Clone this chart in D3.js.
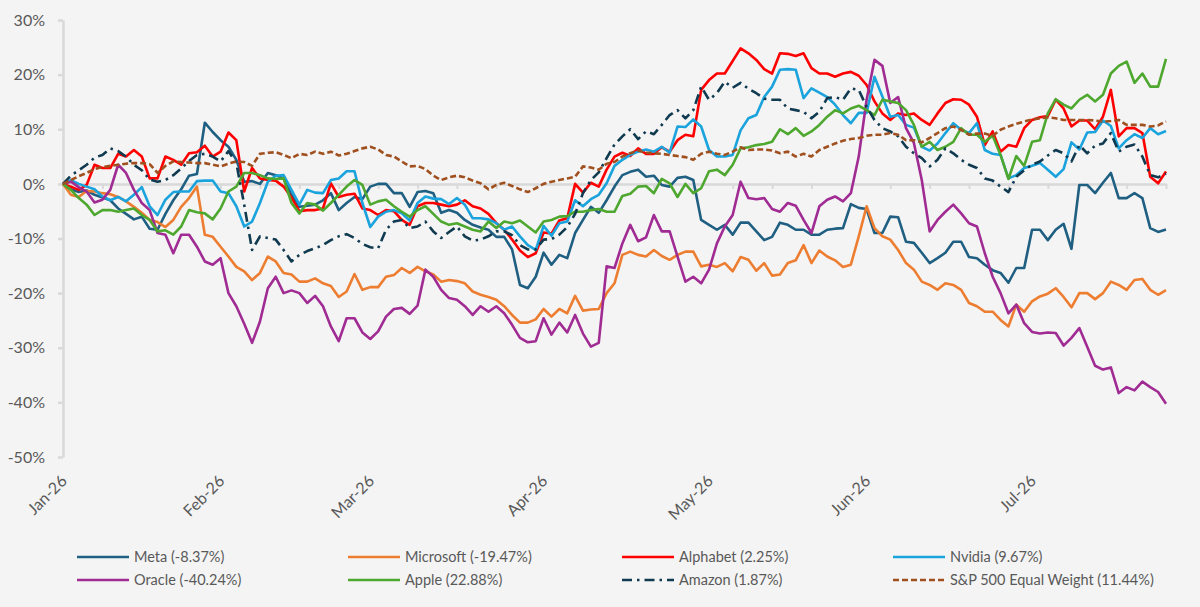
<!DOCTYPE html>
<html>
<head>
<meta charset="utf-8">
<script src="https://cdn.jsdelivr.net/npm/d3@7"></script>
<style>
  html, body { margin: 0; padding: 0; background: #f4f4f4; }
  svg { display: block; }
  text { font-family: Lato, "Noto Sans", sans-serif; fill: #595959; }
</style>
</head>
<body>
<svg id="chart" width="1200" height="607"></svg>
<script>
// ---- data (cumulative return, %) ; one value per trading day ----
const seriesNames = ["Meta (-8.37%)", "Microsoft (-19.47%)", "Alphabet (2.25%)", "Nvidia (9.67%)",
                     "Oracle (-40.24%)", "Apple (22.88%)", "Amazon (1.87%)", "S&P 500 Equal Weight (11.44%)"];

const meta = [0,-1,-1.5,-1.2,-2,-2.5,-3,-4.5,-5.5,-6.5,
  -6,-8.2,-8.4,-5.5,-3,-1,1.5,1.8,11.2,9.5,
  8,6.8,4.4,0.4,0.5,0,2,1.6,1,-2,
  -4.2,-4,-3.8,-3,-1.7,-4.8,-3.5,-2.4,-2.8,-0.5,
  0,0,-1.7,-1.7,-4.2,-1.5,-1.3,-1.7,-5.3,-4.8,
  -5.3,-6.6,-7.5,-8,-8.4,-9.7,-9.7,-12,-18.5,-19.1,
  -17,-12.6,-14.8,-13,-13.6,-9,-6.6,-4.2,-5.3,-3,
  -0.5,1.6,2.2,2.6,1.3,1.5,-0.2,-0.5,1.1,1.3,
  0.7,-6.6,-7.5,-8.4,-7.5,-9.3,-7.1,-7.1,-8.7,-10.3,
  -9.7,-7.1,-7.5,-8.4,-8.4,-9.3,-9.3,-8.4,-8.2,-8.1,
  -3.7,-4.4,-4.6,-9,-9,-6,-6.1,-10.6,-10.8,-12.6,
  -14.5,-13.6,-12.6,-10.6,-10.6,-13.4,-13.6,-14.8,-15.8,-16.3,
  -18.1,-15.4,-15.4,-8.4,-8.4,-10.3,-8.4,-7.3,-11.9,-0.2,
  -0.2,-1.7,0.2,2,-2.6,-2.6,-1.7,-2.6,-8.1,-8.8,
  -8.37];

const microsoft = [0,-2,-2.4,-1.3,-1.4,-1.7,-1.9,-2.4,-3.2,-4.2,
  -5.3,-6.6,-7,-7.9,-6.6,-4.2,-2.6,-0.5,-9.3,-9.7,
  -11.5,-13.3,-15.2,-16,-17.6,-16.3,-13.3,-14.2,-16.3,-16.6,
  -17.9,-17.9,-17.3,-18.2,-18.7,-20.7,-19.7,-16.5,-19.4,-18.9,
  -18.9,-17,-16.7,-15.4,-16.3,-15.2,-16,-16.6,-17.9,-17.6,
  -17.8,-18.2,-19.7,-20.3,-20.7,-21.2,-22.4,-24,-25.4,-25.4,
  -24.8,-22.9,-24.3,-22.9,-23.7,-20.5,-23.2,-23,-22.9,-20,
  -18.2,-13,-12.4,-13,-13.3,-12.1,-13.2,-13.9,-13,-12.4,
  -12.4,-15.1,-14.8,-15.2,-14.5,-16,-13.4,-13.9,-15.9,-14.5,
  -16.8,-16.6,-14.5,-14,-11.2,-14.5,-12.2,-13.3,-14,-15.2,
  -14.8,-9.6,-4.1,-8.1,-9.6,-10.2,-12.1,-14.5,-15.7,-17.9,
  -18.5,-19.4,-18.2,-18.5,-19.4,-21.8,-22.4,-23.4,-23.4,-24.9,
  -26.1,-22.1,-23.4,-21.5,-20.6,-20.1,-19.1,-20.7,-22.6,-20,
  -20,-21.1,-20,-17.9,-18.5,-19.4,-17.6,-17.4,-19.4,-20.3,
  -19.47];

const alphabet = [0,-0.5,-1.1,-0.2,3.5,2.9,2.9,5.5,5,6.2,
  5,1,1,5,4.4,3.5,5.6,5.8,7,5,
  5.9,9.4,8,-1.4,2.9,1,0.7,0.6,-0.5,-2.5,
  -5,-4.8,-4.8,-4.5,0.1,-2.4,-2,-1.8,-4.5,-4.8,
  -5.7,-4.8,-5,-6.6,-7.5,-4.1,-3.5,-3.5,-3.8,-4.1,
  -3.8,-3,-4.1,-4.5,-5.5,-7.2,-8.4,-10.2,-12.2,-13.4,
  -12.7,-8.9,-9.1,-6.7,-6.3,0,-1.6,0.2,-0.5,2.6,
  5,5.7,5.1,6.5,5.5,5.5,6.7,5.9,8,9,
  8.7,17.2,19,20.2,20.2,22.5,24.8,23.9,22.7,21,
  20.2,23.9,23.8,23.4,23.9,21.2,20.2,20.2,19.6,20.2,
  20.5,19.8,18.1,15.1,12.9,11.7,12.9,12.6,12.9,11.7,
  10.8,12.9,14.8,15.5,15.4,14.5,12.3,7.1,9.6,5.9,
  7.1,6.8,10.2,11.7,12.2,12.4,15.4,13.8,10.5,11.6,
  11.6,10,12.3,17.2,8.7,10.2,10.2,9.3,1.3,0.1,
  2.25];

const nvidia = [0,0.7,0,-0.5,-1,-2.3,-3,-2.4,-3.2,-2,
  -0.6,-4.1,-5.7,-2.9,-1.5,-1.4,-1.4,0.5,0.6,0.6,
  -1.4,-1.7,-4.1,-7.8,-6.9,-3.5,0.4,1.5,1.6,-1.1,
  -3.8,-1.1,-1.6,-1.7,0.7,1,2.3,2.3,-3.5,-7.9,
  -6,-5.1,-4.8,-5.4,-6.7,-3.5,-2.3,-2.7,-2.8,-3.7,
  -2.6,-3.8,-6.3,-6.3,-6.5,-7.2,-8.4,-7.8,-9.6,-11.2,
  -12.1,-7.7,-9.5,-7.2,-6.9,-3,-4.1,-2.8,-2,0.1,
  3.3,4.4,5.3,5.9,6.3,5.9,6.8,5.7,10.5,10.4,
  11.8,10.5,6.2,5,5,5.3,9.8,12,12.6,15.9,
  17.8,20.9,21,20.9,15.7,17.5,16.7,15.9,14.5,12.6,
  11.1,13,13,19.6,16,12.3,12.6,10.8,10.3,6.8,
  6.1,7.4,9.3,11.1,9.9,9.3,11.1,6.2,5.5,5.3,
  1,1.6,2.9,3.3,3.8,2.6,1.3,2.7,7.6,6.3,
  9.4,9.5,11.6,10.6,6.5,8,9.1,8.4,10.2,9.1,
  9.67];

const oracle = [0,0.4,-0.6,-1.4,-3.4,-2.9,-1.1,3.5,2,-1.1,
  -3.5,-4.8,-9,-9.3,-12.7,-9.3,-9.3,-11.5,-14.2,-14.8,
  -13.6,-20,-22.4,-25.6,-29.1,-25.2,-19.1,-17,-20,-19.5,
  -20,-21.8,-20.5,-22.4,-26.1,-28.8,-24.6,-24.6,-27.2,-28.4,
  -27,-24.3,-22.9,-22.7,-23.8,-22.3,-15.7,-17,-19.4,-20.9,
  -21.2,-22.4,-24,-22.4,-23.4,-22.4,-23.7,-25.8,-28.2,-29,
  -28.8,-24.6,-27.6,-25.4,-27.2,-24,-27.4,-29.8,-29.1,-15.1,
  -15.4,-10.9,-7.5,-10.5,-9.8,-5.7,-8.7,-8.7,-13.3,-17.9,
  -17,-18.2,-15.7,-10.9,-7.8,-5.7,0.4,-2.6,-2.8,-2.6,
  -4.6,-5.1,-3.5,-4,-6.6,-9,-4.1,-2.9,-2.3,-3.2,
  -1.7,5,15.4,22.7,21.6,14.8,15.9,10.2,7.5,0.7,
  -8.7,-6.6,-5.1,-3.8,-5.4,-7.2,-7.8,-12.7,-17,-20,
  -23.7,-22.1,-25.5,-27.1,-27.4,-27.2,-27.3,-29.6,-28.2,-26.4,
  -29.8,-33.3,-34,-33.6,-38.3,-37.2,-37.8,-36.2,-37.2,-38.1,
  -40.24];

const apple = [0,-1.1,-2.6,-3.8,-5.7,-4.8,-4.8,-5.1,-4.8,-4.5,
  -5.7,-6.6,-8.7,-8.5,-9.3,-7.8,-4.8,-5.2,-5.4,-6.5,
  -4.5,-1.4,-0.5,2,2,1.6,1,0.9,1,-3.5,
  -5.4,-3.5,-3.8,-4.9,-3.5,-2,-0.5,0.7,-0.2,-3.8,
  -3.2,-2.9,-4.1,-5.1,-6,-4.8,-4.1,-5.5,-6.9,-7.5,
  -7.2,-7.8,-8.4,-8.7,-6.9,-8.1,-6.9,-7.2,-6.7,-7.8,
  -8.9,-6.9,-6.6,-6,-5.9,-5.1,-5.1,-4.8,-4.6,-5.1,
  -5.1,-2.2,-1.8,-0.5,-0.4,-1.7,0.9,0.1,-2.4,0,
  -1.7,-0.8,2.3,2.6,1.6,3.5,6.5,6.7,7.1,7.3,
  7.7,10,9.1,10.2,8.8,9.6,10.8,12.3,13.5,12.9,
  13.8,14.3,13.5,12.6,15.4,15.1,14.8,13.5,10.8,6.8,
  7.7,6.2,6.8,7.7,10.2,9,9,7.7,8.8,5.3,
  0.9,5.1,3.3,7.7,8,12.9,15.5,14.5,13.8,15.4,
  16.3,15.1,16.3,20.2,21.6,22.4,18.5,20.2,17.8,17.8,
  22.88];

const amazon = [0,1.5,2.5,3.5,4.8,5.3,6.5,6,5,3.5,
  2.5,0.8,0.4,0.7,1.6,2.8,4.2,5.3,5.5,5,
  4.1,6,3.8,-3.8,-12.1,-9.6,-9.9,-10.2,-12.1,-14.2,
  -13,-12.3,-11.8,-11.2,-10.3,-9.6,-9.2,-9.9,-11,-11.6,
  -11.8,-8.4,-6.9,-6.6,-8.1,-7.8,-6.9,-8.7,-9.9,-8.8,
  -7.8,-9.6,-10.4,-10.2,-9.6,-8.7,-8.7,-9.4,-11.2,-12,
  -12,-10.2,-10.1,-9.3,-7.9,-5.5,-1.7,0.7,2.1,4.7,
  7.2,8.7,10,8.2,9.6,9.1,10.8,12.6,13.5,12,
  13.5,17.8,15.4,16.6,18.7,17.6,18.5,17.4,16.6,15.6,
  15.4,15.4,13.8,13.5,13.2,12,13.2,15.7,15.9,15.4,
  17.5,17.2,14.1,11.7,10.2,9.6,8.7,6.8,5.6,4.7,
  3.2,4.4,6.5,5.6,4.4,3.5,2.9,1,0.6,-0.5,
  -1.5,1.3,2.5,3.5,4.1,5.2,6.2,5.6,4.1,7.1,
  5.6,7,7.4,9.3,5.9,6.8,7.2,5,1.6,1.2,
  1.87];

const spEqual = [0,0.7,1.4,2,2.7,3.1,3.3,3.5,3.7,3.8,
  3.8,3.6,2,3.3,4.1,4,3.9,3.8,3.8,3.5,
  3.2,3.7,4.1,4,3.3,5.5,5.7,5.8,5.3,4.7,
  5.5,5.3,5.9,5.5,5.9,5.2,5.5,6,6.5,6.8,
  6.3,5.3,5,4.1,3.2,3.3,2.7,1.5,0.7,1.2,
  1.5,1.2,0.6,0.1,-1,-0.2,0.2,-0.4,-1,-1.5,
  -0.8,0,0.4,0.7,1,1.3,3.2,3,2.6,3.7,
  4,5,5.6,6.1,5.7,5.6,5.5,5.3,5.1,4.9,
  4.4,5.5,5.9,5.5,5.3,5.9,6.7,6.2,6.3,6.3,
  6.1,5.6,5.9,5,5.5,5,6.2,6.8,7.4,7.9,
  8.2,8.4,8.8,9,9,9.3,9,8,8,7.6,
  8.4,9.3,10.2,10.5,9.9,9,9.2,9.2,8.8,9.9,
  10.5,11,11.4,11.8,12,12.2,12,11.7,11.7,11.7,
  11.7,11.6,11.4,11.5,11.7,10.8,10.8,10.8,10.5,10.7,
  11.44];

// month tick labels and the trading-day index where each month starts
const tickLabels = ["Jan-26", "Feb-26", "Mar-26", "Apr-26", "May-26", "Jun-26", "Jul-26"];
const tickIndex  = [0, 20, 39, 61, 82, 102, 123];
const yTicks = [-50, -40, -30, -20, -10, 0, 10, 20, 30];

// ---- styles ----
const seriesValues = [meta, microsoft, alphabet, nvidia, oracle, apple, amazon, spEqual];
const colors = ["#1f5f82", "#ed7d31", "#ff0000", "#1aa3dc", "#a02b93", "#4ea72e", "#0f3a50", "#a0501e"];
const dashes = [null, null, null, null, null, null, "10,5,2.5,5", "6,3"];

const svg = d3.select("#chart");
const W = 1200, H = 607;
svg.append("rect").attr("width", W).attr("height", H).attr("fill", "#f4f4f4");

const n = meta.length;
const x = d3.scaleLinear().domain([0, n - 1]).range([63, 1166]);
const y = d3.scaleLinear().domain([-50, 30]).range([457, 20]);

// y axis
const yAxis = svg.append("g").attr("transform", "translate(63,0)")
  .call(d3.axisLeft(y).tickValues(yTicks).tickFormat(d => d + "%").tickSizeInner(5).tickSizeOuter(0).tickPadding(13));
yAxis.selectAll("path, line").attr("stroke", "#d9d9d9").attr("stroke-width", 2.5);
yAxis.selectAll("text").style("font-size", "16px").attr("fill", "#595959").style("font-family", "Lato, 'Noto Sans', sans-serif");

// horizontal (category) axis crossing at 0%
const xAxis = svg.append("g").attr("transform", `translate(0,${y(0)})`)
  .call(d3.axisBottom(x).tickValues(d3.range(0, n, 5)).tickFormat("").tickSizeInner(5).tickSizeOuter(0));
xAxis.select("path").attr("stroke", "#d9d9d9").attr("stroke-width", 2.5);
xAxis.selectAll("line").attr("stroke", "#d9d9d9").attr("stroke-width", 2);

// month labels at the bottom
svg.append("g").selectAll("text").data(tickLabels).join("text")
  .attr("transform", (d, i) => `translate(${x(tickIndex[i]) + 5},482) rotate(-45)`)
  .attr("text-anchor", "end")
  .style("font-size", "16px")
  .text(d => d);

// lines
const line = d3.line().x((d, i) => x(i)).y(d => y(d));
const gLines = svg.append("g");
seriesValues.forEach((vals, k) => {
  gLines.append("path")
    .attr("d", line(vals))
    .attr("fill", "none")
    .attr("stroke", colors[k])
    .attr("stroke-width", 2.6)
    .attr("stroke-linejoin", "round")
    .attr("stroke-dasharray", dashes[k]);
});

// legend
const legCols = [77, 348, 622, 893];
const legRows = [557, 580];
const leg = svg.append("g");
seriesNames.forEach((name, k) => {
  const cx = legCols[k % 4], cy = legRows[Math.floor(k / 4)];
  leg.append("line").attr("x1", cx).attr("x2", cx + 52).attr("y1", cy).attr("y2", cy)
    .attr("stroke", colors[k]).attr("stroke-width", 2.6).attr("stroke-dasharray", dashes[k]);
  leg.append("text").attr("x", cx + 57).attr("y", cy).attr("dy", "0.35em")
    .style("font-size", "14.5px").text(name);
});
</script>
</body>
</html>
